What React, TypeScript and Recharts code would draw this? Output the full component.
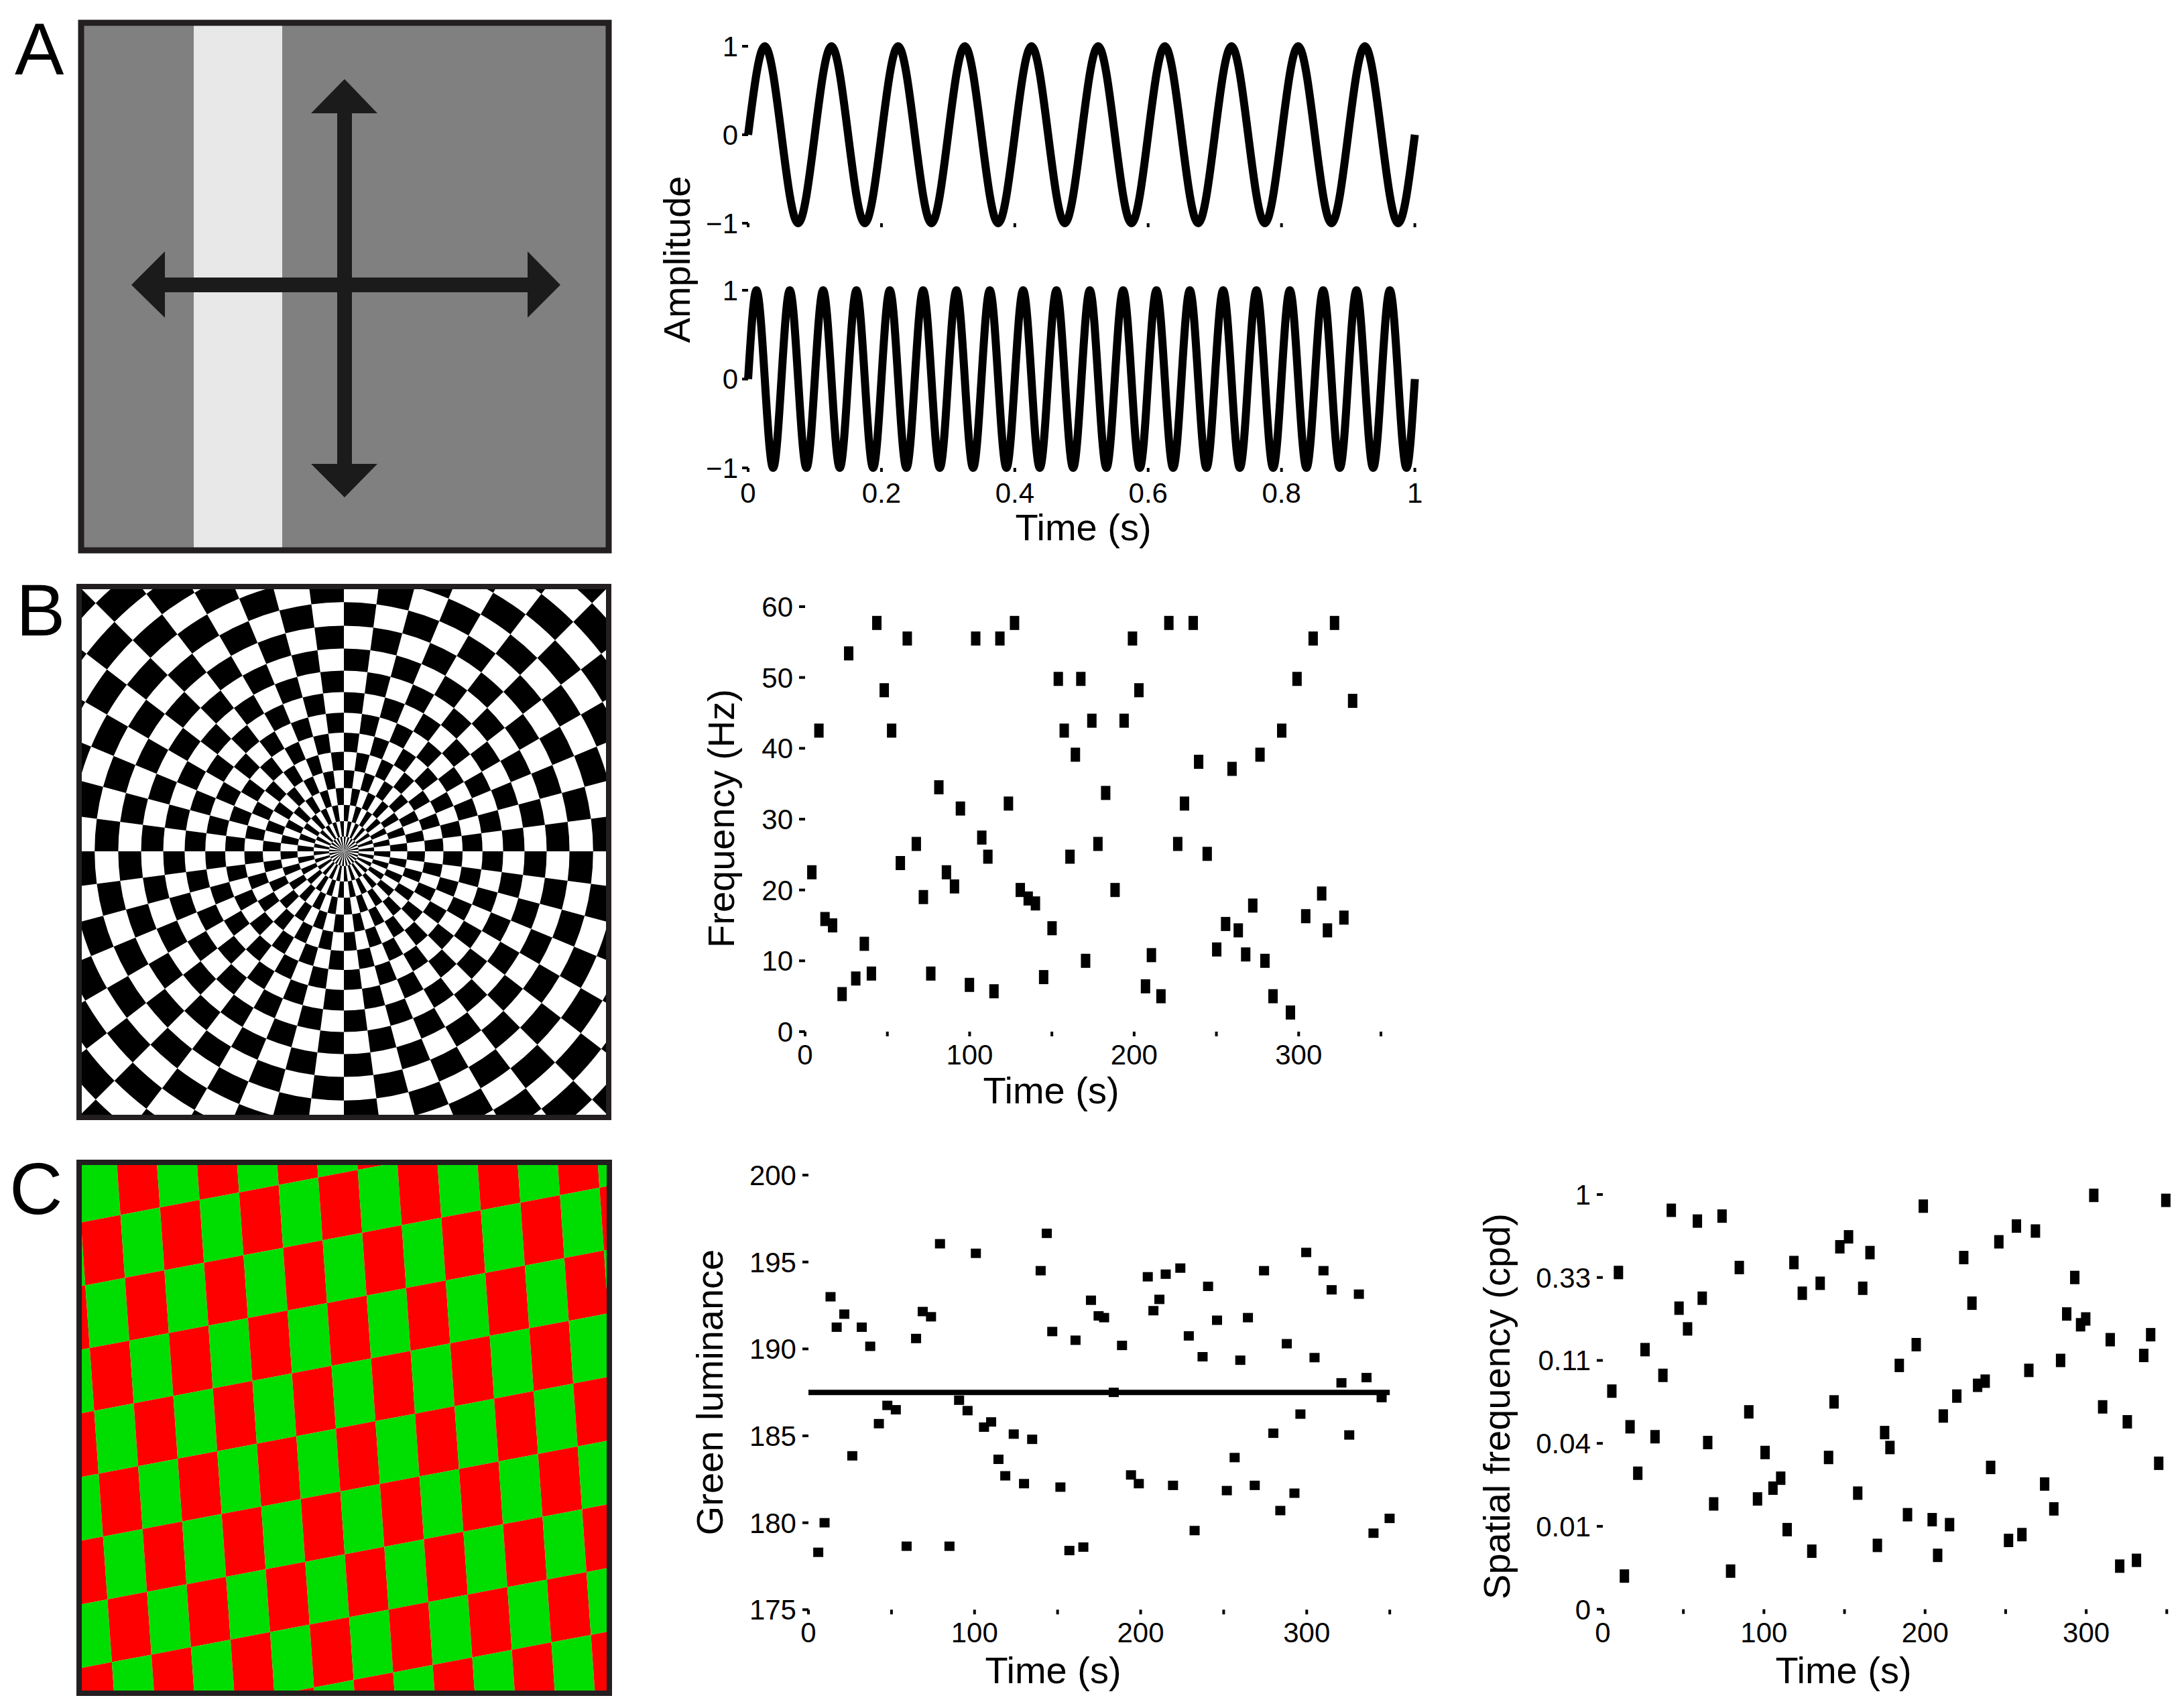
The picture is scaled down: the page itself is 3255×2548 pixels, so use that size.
import React from "react";
import {
  LineChart,
  Line,
  ScatterChart,
  Scatter,
  XAxis,
  YAxis,
  ReferenceLine,
} from "recharts";

const FONT = '"Liberation Sans", Arial, Helvetica, sans-serif';

// A: bar luminance over one second, sampled at quarter periods (10 Hz / 20 Hz)
const slowTime = [
  0, 0.025, 0.05, 0.075, 0.1, 0.125, 0.15, 0.175, 0.2, 0.225, 0.25, 0.275, 0.3,
  0.325, 0.35, 0.375, 0.4, 0.425, 0.45, 0.475, 0.5, 0.525, 0.55, 0.575, 0.6,
  0.625, 0.65, 0.675, 0.7, 0.725, 0.75, 0.775, 0.8, 0.825, 0.85, 0.875, 0.9,
  0.925, 0.95, 0.975, 1,
];
const slowAmp = [
  0, 1, 0, -1, 0, 1, 0, -1, 0, 1, 0, -1, 0, 1, 0, -1, 0, 1, 0, -1, 0, 1, 0, -1,
  0, 1, 0, -1, 0, 1, 0, -1, 0, 1, 0, -1, 0, 1, 0, -1, 0,
];
const fastTime = [
  0, 0.0125, 0.025, 0.0375, 0.05, 0.0625, 0.075, 0.0875, 0.1, 0.1125, 0.125,
  0.1375, 0.15, 0.1625, 0.175, 0.1875, 0.2, 0.2125, 0.225, 0.2375, 0.25, 0.2625,
  0.275, 0.2875, 0.3, 0.3125, 0.325, 0.3375, 0.35, 0.3625, 0.375, 0.3875, 0.4,
  0.4125, 0.425, 0.4375, 0.45, 0.4625, 0.475, 0.4875, 0.5, 0.5125, 0.525,
  0.5375, 0.55, 0.5625, 0.575, 0.5875, 0.6, 0.6125, 0.625, 0.6375, 0.65, 0.6625,
  0.675, 0.6875, 0.7, 0.7125, 0.725, 0.7375, 0.75, 0.7625, 0.775, 0.7875, 0.8,
  0.8125, 0.825, 0.8375, 0.85, 0.8625, 0.875, 0.8875, 0.9, 0.9125, 0.925,
  0.9375, 0.95, 0.9625, 0.975, 0.9875, 1,
];
const fastAmp = [
  0, 1, 0, -1, 0, 1, 0, -1, 0, 1, 0, -1, 0, 1, 0, -1, 0, 1, 0, -1, 0, 1, 0, -1,
  0, 1, 0, -1, 0, 1, 0, -1, 0, 1, 0, -1, 0, 1, 0, -1, 0, 1, 0, -1, 0, 1, 0, -1,
  0, 1, 0, -1, 0, 1, 0, -1, 0, 1, 0, -1, 0, 1, 0, -1, 0, 1, 0, -1, 0, 1, 0, -1,
  0, 1, 0, -1, 0, 1, 0, -1, 0,
];
const ampTicks = [-1, 0, 1];
const secTicks = [0, 0.2, 0.4, 0.6, 0.8, 1];

// shared time axis (s) for B and C
const timeTicks = [0, 50, 100, 150, 200, 250, 300, 350];

// B: flicker frequency per trial
const flickerTime = [
  8.4, 4.1, 12.1, 16.7, 26.5, 22.5, 30.8, 36, 40.3, 43.6, 48.1, 52.6, 57.9,
  62.1, 67.6, 71.9, 76.4, 81.3, 85.9, 90.8, 94.4, 99.9, 103.7, 107.4, 111.1,
  114.8, 118.4, 123.6, 127.3, 130.8, 135.6, 140, 145, 150.1, 153.9, 157.5, 161,
  164.3, 167.6, 170.5, 174.3, 178, 182.7, 188.4, 193.9, 199, 202.9, 206.9,
  210.5, 216.3, 221.1, 226.5, 230.6, 235.9, 239.2, 244.4, 250.2, 255.6, 259.5,
  263.3, 267.8, 272.1, 276.5, 279.5, 284.4, 289.7, 295, 299, 304.3, 308.8, 314,
  317.5, 321.8, 327.5, 332.8,
];
const flickerHz = [
  42.5, 22.5, 15.9, 15.0, 53.4, 5.3, 7.5, 12.4, 8.2, 57.7, 48.2, 42.5, 23.8,
  55.5, 26.5, 19.0, 8.2, 34.5, 22.5, 20.5, 31.5, 6.6, 55.5, 27.4, 24.7, 5.7,
  55.5, 32.2, 57.7, 20.0, 18.8, 18.1, 7.7, 14.6, 49.8, 42.5, 24.7, 39.1, 49.8,
  10.0, 43.9, 26.5, 33.7, 20.0, 43.9, 55.5, 48.2, 6.4, 10.8, 5.0, 57.7, 26.5,
  32.2, 57.7, 38.1, 25.1, 11.6, 15.2, 37.1, 14.3, 10.9, 17.8, 39.1, 10.0, 5.0,
  42.5, 2.7, 49.8, 16.3, 55.5, 19.5, 14.3, 57.7, 16.1, 46.7,
];
const hzTicks = [0, 10, 20, 30, 40, 50, 60];

// C middle: green luminance per trial
const greenTime = [
  5.9, 9.7, 13.3, 17.0, 21.6, 26.4, 32.1, 37.2, 42.4, 47.5, 52.6, 59.1, 64.8,
  68.8, 73.8, 79.2, 84.9, 90.7, 95.8, 100.8, 105.7, 110.0, 114.4, 118.5, 123.6,
  129.8, 134.7, 139.8, 143.5, 146.8, 151.7, 157.1, 160.8, 165.5, 170.1, 174.7,
  178.0, 183.8, 188.8, 194.2, 198.9, 204.3, 207.7, 211.3, 215.1, 219.5, 223.9,
  229.0, 232.5, 237.3, 240.6, 246.0, 251.9, 256.6, 260.0, 264.6, 268.7, 274.3,
  279.9, 284.1, 288.0, 292.6, 296.2, 299.7, 304.7, 310.1, 315.0, 320.9, 325.6,
  331.4, 336.0, 340.2, 345.1, 349.9,
];
const greenLum = [
  178.3, 180.0, 193.0, 191.25, 192.0, 183.85, 191.25, 190.15, 185.7, 186.75,
  186.5, 178.65, 190.6, 192.15, 191.85, 196.05, 178.65, 187.05, 186.45, 195.5,
  185.5, 185.8, 183.65, 182.7, 185.1, 182.25, 184.8, 194.5, 196.65, 191.0,
  182.05, 178.4, 190.5, 178.6, 192.8, 191.9, 191.8, 187.5, 190.2, 182.75,
  182.25, 194.15, 192.2, 192.85, 194.3, 182.15, 194.65, 190.75, 179.55, 189.55,
  193.6, 191.65, 181.85, 183.75, 189.35, 191.8, 182.15, 194.5, 185.15, 180.7,
  190.3, 181.7, 186.25, 195.55, 189.5, 194.5, 193.4, 188.05, 185.05, 193.15,
  188.35, 179.4, 187.2, 180.25,
];
const greenMean = 187.5;
const greenTicks = [175, 180, 185, 190, 195, 200];

// C right: spatial frequency per trial, as position on the log axis (0 = lowest tick)
const sfTime = [
  9.7, 5.6, 13.4, 16.9, 21.7, 26.2, 32.4, 37.3, 42.5, 47.3, 52.6, 58.7, 61.7,
  65.1, 68.8, 74.0, 79.3, 84.7, 90.6, 96.0, 100.7, 105.6, 110.4, 114.4, 118.6,
  123.8, 129.7, 134.9, 140.1, 143.5, 147.1, 152.5, 158.2, 161.3, 165.8, 170.4,
  174.9, 178.2, 184.0, 189.1, 194.5, 198.9, 204.4, 207.8, 211.3, 215.2, 219.7,
  224.0, 229.1, 232.6, 237.3, 240.7, 245.8, 251.8, 256.7, 260.1, 264.4, 268.5,
  274.2, 279.9, 284.1, 287.9, 292.9, 296.5, 299.7, 304.7, 310.2, 314.9, 320.8,
  325.5, 331.2, 335.7, 340.0, 345.0, 349.4,
];
const sfLevel = [
  4.06, 2.63, 0.4, 2.2, 1.64, 3.13, 2.08, 2.82, 4.81, 3.63, 3.38, 4.68, 3.75,
  2.01, 1.27, 4.74, 0.46, 4.12, 2.38, 1.33, 1.89, 1.46, 1.58, 0.96, 4.18, 3.81,
  0.7, 3.93, 1.83, 2.5, 4.37, 4.49, 1.4, 3.87, 4.3, 0.77, 2.13, 1.95, 2.94,
  1.14, 3.19, 4.86, 1.08, 0.65, 2.33, 1.02, 2.57, 4.24, 3.69, 2.7, 2.75, 1.71,
  4.43, 0.83, 4.62, 0.9, 2.88, 4.56, 1.51, 1.21, 3.0, 3.56, 4.0, 3.43, 3.5,
  4.99, 2.44, 3.25, 0.52, 2.26, 0.59, 3.06, 3.31, 1.76, 4.93,
];
const sfTicks = [0, 1, 2, 3, 4, 5];
const sfTickLabels = ["0", "0.01", "0.04", "0.11", "0.33", "1"];

const tickText = { fill: "#000", fontSize: 42, fontFamily: FONT };
const tickStroke = { stroke: "#000", strokeWidth: 4 };
const YW = 140;
const MT = 40;
const XH = 80;

function WavePlot({ left, top, right, bottom, time, amp, labels }: any) {
  const data = time.map((t: number, i: number) => ({ t, a: amp[i] }));
  const xh = labels ? XH : 36;
  return (
    <div style={{ position: "absolute", left: left - YW, top: top - MT }}>
      <LineChart
        width={YW + (right - left) + 30}
        height={MT + (bottom - top) + xh}
        data={data}
        margin={{ top: MT, right: 30, bottom: 0, left: 0 }}
      >
        <XAxis
          dataKey="t"
          type="number"
          domain={[0, 1]}
          ticks={secTicks}
          interval={0}
          axisLine={false}
          tickLine={tickStroke}
          tickSize={6}
          tickMargin={16}
          height={xh}
          tick={tickText}
          tickFormatter={(v: number) => (labels ? String(v) : "")}
        />
        <YAxis
          type="number"
          domain={[-1, 1]}
          ticks={ampTicks}
          interval={0}
          axisLine={false}
          tickLine={tickStroke}
          tickSize={9}
          tickMargin={6}
          width={YW}
          tick={tickText}
          tickFormatter={(v: number) => (v < 0 ? "\u2212" + -v : String(v))}
        />
        <Line
          dataKey="a"
          type="natural"
          stroke="#000"
          strokeWidth={12}
          dot={false}
          isAnimationActive={false}
        />
      </LineChart>
    </div>
  );
}

function DotPlot({
  left, top, right, bottom, xs, ys, yDomain, yTicks, yFormat, markW, markH, refY, mr,
}: any) {
  const data = xs.map((t: number, i: number) => ({ t, v: ys[i] }));
  return (
    <div style={{ position: "absolute", left: left - YW, top: top - MT }}>
      <ScatterChart
        width={YW + (right - left) + mr}
        height={MT + (bottom - top) + XH}
        margin={{ top: MT, right: mr, bottom: 0, left: 0 }}
      >
        <XAxis
          dataKey="t"
          type="number"
          domain={[0, 350]}
          ticks={timeTicks}
          interval={0}
          axisLine={false}
          tickLine={tickStroke}
          tickSize={7}
          tickMargin={12}
          height={XH}
          tick={tickText}
          tickFormatter={(v: number) => (v % 100 === 0 ? String(v) : "")}
        />
        <YAxis
          dataKey="v"
          type="number"
          domain={yDomain}
          ticks={yTicks}
          interval={0}
          axisLine={false}
          tickLine={tickStroke}
          tickSize={9}
          tickMargin={9}
          width={YW}
          tick={tickText}
          tickFormatter={yFormat}
        />
        {refY !== undefined && (
          <ReferenceLine y={refY} stroke="#000" strokeWidth={8} />
        )}
        <Scatter
          data={data}
          fill="#000"
          isAnimationActive={false}
          shape={(p: any) => (
            <rect
              x={p.cx - markW / 2}
              y={p.cy - markH / 2}
              width={markW}
              height={markH}
              fill="#000"
            />
          )}
        />
      </ScatterChart>
    </div>
  );
}

// stimulus pictures (not data)
function BarStimulus() {
  const ink = "#1b1b1b";
  return (
    <g>
      <rect x={121} y={34} width={787} height={787} fill="#808080" />
      <rect x={289} y={34} width={132} height={787} fill="#e8e8e8" />
      <rect x={503} y={165} width={22} height={530} fill={ink} />
      <polygon points="514,118 563,169 464,169" fill={ink} />
      <polygon points="514,742 563,692 464,692" fill={ink} />
      <rect x={243} y={414} width={547} height={22} fill={ink} />
      <polygon points="196,425 246,375 246,474" fill={ink} />
      <polygon points="836,425 787,375 787,474" fill={ink} />
      <rect x={121} y={34} width={787} height={787} fill="none" stroke="#231f20" strokeWidth={9} />
    </g>
  );
}

function Dartboard() {
  const cx = 513;
  const cy = 1270;
  const rings = [0];
  let r = 0;
  let n = 0;
  while (r < 620) {
    r += 22 + 1.1 * n;
    n++;
    rings.push(r);
  }
  const wedges = 48;
  const paths: any[] = [];
  for (let i = 0; i < rings.length - 1; i++) {
    for (let k = 0; k < wedges; k++) {
      if ((i + k) % 2) continue;
      const a0 = (k * 2 * Math.PI) / wedges;
      const a1 = ((k + 1) * 2 * Math.PI) / wedges;
      const r0 = rings[i];
      const r1 = rings[i + 1];
      const p = (rr: number, a: number) =>
        `${(cx + rr * Math.cos(a)).toFixed(2)},${(cy + rr * Math.sin(a)).toFixed(2)}`;
      paths.push(
        <path
          key={`${i}-${k}`}
          d={`M${p(r0, a0)} L${p(r1, a0)} A${r1},${r1} 0 0 1 ${p(r1, a1)} L${p(r0, a1)} A${r0},${r0} 0 0 0 ${p(r0, a0)} Z`}
          fill="#000"
        />
      );
    }
  }
  return (
    <g>
      <defs>
        <clipPath id="clipB">
          <rect x={118} y={875} width={790} height={792} />
        </clipPath>
      </defs>
      <rect x={118} y={875} width={790} height={792} fill="#fff" />
      <g clipPath="url(#clipB)">{paths}</g>
      <rect x={118} y={875} width={790} height={792} fill="none" stroke="#231f20" strokeWidth={8} />
    </g>
  );
}

function ColorChecks() {
  const cells: any[] = [];
  for (let i = -4; i <= 15; i++) {
    for (let j = -4; j <= 11; j++) {
      const even = Math.abs((i + j) % 2) === 0;
      cells.push(
        <rect key={`${i}_${j}`} x={i} y={j} width={1} height={1} fill={even ? "#00dd00" : "#ff0000"} />
      );
    }
  }
  return (
    <g>
      <defs>
        <clipPath id="clipC">
          <rect x={118} y={1734} width={791} height={792} />
        </clipPath>
      </defs>
      <g clipPath="url(#clipC)">
        <g transform="matrix(59,-11.2,6.6,93.7,179.7,1812.5)">{cells}</g>
      </g>
      <rect x={118} y={1734} width={791} height={792} fill="none" stroke="#231f20" strokeWidth={8} />
    </g>
  );
}

export default function App() {
  const title = { fontFamily: FONT, fontSize: 56, fill: "#000" };
  const letter = { fontFamily: FONT, fontSize: 110, fill: "#000" };
  return (
    <div
      style={{
        position: "absolute",
        left: 0,
        top: 0,
        width: 3255,
        height: 2548,
        background: "#fff",
        overflow: "hidden",
      }}
    >
      <svg width={3255} height={2548} style={{ position: "absolute", left: 0, top: 0 }}>
        <BarStimulus />
        <Dartboard />
        <ColorChecks />
        <text x={22} y={111} {...letter}>A</text>
        <text x={24} y={948} {...letter}>B</text>
        <text x={14} y={1811} {...letter}>C</text>

        <text transform="translate(1029,387) rotate(-90)" textAnchor="middle" {...title}>Amplitude</text>
        <text x={1616} y={806} textAnchor="middle" {...title}>Time (s)</text>

        <text transform="translate(1095,1221) rotate(-90)" textAnchor="middle" {...title}>Frequency (Hz)</text>
        <text x={1568} y={1646} textAnchor="middle" {...title}>Time (s)</text>

        <text transform="translate(1078,2077) rotate(-90)" textAnchor="middle" {...title}>Green luminance</text>
        <text x={1571} y={2511} textAnchor="middle" {...title}>Time (s)</text>

        <text transform="translate(2252,2098) rotate(-90)" textAnchor="middle" {...title}>Spatial frequency (cpd)</text>
        <text x={2750} y={2511} textAnchor="middle" {...title}>Time (s)</text>
      </svg>

      <WavePlot left={1116} top={69} right={2110.6} bottom={333} time={slowTime} amp={slowAmp} labels={false} />
      <WavePlot left={1116} top={433} right={2110.6} bottom={698} time={fastTime} amp={fastAmp} labels={true} />

      <DotPlot
        left={1201} top={905} right={2060} bottom={1539}
        xs={flickerTime} ys={flickerHz}
        yDomain={[0, 60]} yTicks={hzTicks} yFormat={(v: number) => String(v)}
        markW={14} markH={21} mr={30}
      />
      <DotPlot
        left={1205.5} top={1752.7} right={2072.7} bottom={2401}
        xs={greenTime} ys={greenLum}
        yDomain={[175, 200]} yTicks={greenTicks} yFormat={(v: number) => String(v)}
        markW={15} markH={14} refY={greenMean} mr={30}
      />
      <DotPlot
        left={2391.4} top={1782.3} right={3232.7} bottom={2401}
        xs={sfTime} ys={sfLevel}
        yDomain={[0, 5]} yTicks={sfTicks} yFormat={(v: number) => sfTickLabels[v]}
        markW={14} markH={20} mr={15}
      />
    </div>
  );
}
